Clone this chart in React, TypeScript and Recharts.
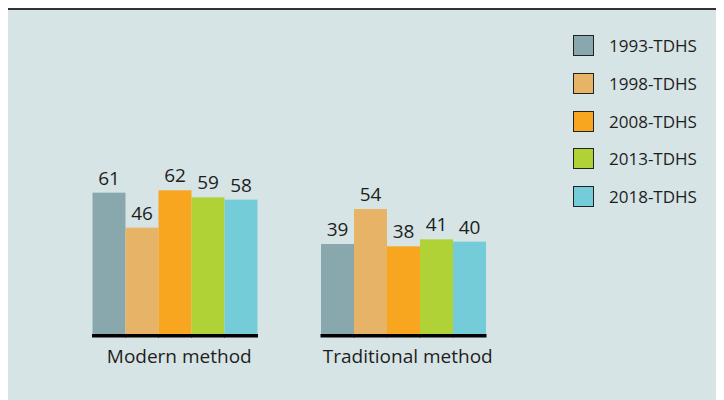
import React from "react";
import { BarChart, Bar, XAxis, YAxis, Legend, LabelList } from "recharts";

const categories = ["Modern method", "Traditional method"];
const seriesNames = ["1993-TDHS", "1998-TDHS", "2008-TDHS", "2013-TDHS", "2018-TDHS"];
const s1993 = [61, 39];
const s1998 = [46, 54];
const s2008 = [62, 38];
const s2013 = [59, 41];
const s2018 = [58, 40];
const seriesValues = [s1993, s1998, s2008, s2013, s2018];
const colors = ["#89A8AD", "#E7B366", "#F8A51F", "#B1D236", "#74CCD9"];

const data = categories.map((c, i) => {
  const row: any = { name: c };
  seriesNames.forEach((s, j) => {
    row[s] = seriesValues[j][i];
  });
  return row;
});

const FONT = "'Open Sans', 'Noto Sans', sans-serif";

const BarShape = (props: any) => {
  const { x, y, width, height, fill } = props;
  return (
    <g>
      <rect x={x} y={y} width={width} height={height} fill={fill} />
      <rect x={x - 0.5} y={y + height - 1} width={width + 1} height={3.5} fill="#000" />
    </g>
  );
};

const Tick = (props: any) => {
  const { x, y, payload } = props;
  return (
    <text x={x + 5} y={y + 20} textAnchor="middle" fontSize={19} fill="#1e1e1e" fontFamily={FONT}>
      {payload.value}
    </text>
  );
};

const LegendContent = () => (
  <div style={{ fontFamily: FONT }}>
    {seriesNames.map((s, i) => (
      <div key={s} style={{ display: "flex", alignItems: "center", height: 37.7 }}>
        <div
          style={{
            width: 19,
            height: 19,
            background: colors[i],
            border: "1.5px solid #222",
            marginRight: 15,
            flexShrink: 0,
          }}
        />
        <span style={{ fontSize: 17, color: "#1e1e1e", whiteSpace: "nowrap" }}>{s}</span>
      </div>
    ))}
  </div>
);

export default function App() {
  return (
    <div
      style={{
        width: 716,
        height: 390,
        background: "#D6E4E5",
        borderTop: "2px solid #333",
        position: "relative",
      }}
    >
      <BarChart
        width={716}
        height={390}
        data={data}
        margin={{ top: 157, right: 207, left: 52, bottom: 35 }}
        barCategoryGap={32.5}
        barGap={0}
      >
        <XAxis dataKey="name" axisLine={false} tickLine={false} height={30} tick={<Tick />} interval={0} />
        <YAxis hide domain={[0, 72]} />
        <Legend
          layout="vertical"
          align="center"
          verticalAlign="middle"
          content={<LegendContent />}
          wrapperStyle={{ position: "absolute", left: 565, top: 17, width: 150 }}
        />
        {seriesNames.map((s, i) => (
          <Bar key={s} dataKey={s} fill={colors[i]} isAnimationActive={false} shape={<BarShape />}>
            <LabelList
              dataKey={s}
              position="top"
              offset={8}
              fontSize={19}
              fill="#1e1e1e"
              fontFamily={FONT}
            />
          </Bar>
        ))}
      </BarChart>
    </div>
  );
}
